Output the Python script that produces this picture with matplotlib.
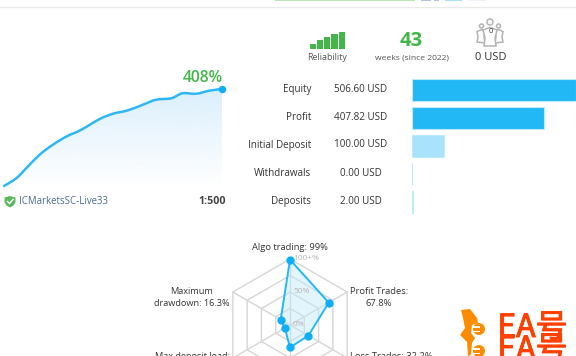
import numpy as np
import matplotlib
matplotlib.use("Agg")
import matplotlib.pyplot as plt
import matplotlib.patheffects as pe
from matplotlib.patches import Circle, Polygon, Rectangle, PathPatch
from matplotlib.path import Path

W, H = 576, 356

# ---- data ----
growth_weeks = [0, 2.4, 4.4, 7, 9.6, 12.3, 15.2, 18.8, 21.5, 24.4, 27.4, 30, 33, 35.2, 37.9, 40.5, 43]
growth_pct = [0, 32, 75, 131, 173, 208, 236, 281, 304, 318, 342, 363, 369, 390, 388, 401, 408]
bar_labels = ["Equity", "Profit", "Initial Deposit", "Withdrawals", "Deposits"]
bar_values = [506.60, 407.82, 100.00, 0.00, 2.00]
bar_texts = ["506.60 USD", "407.82 USD", "100.00 USD", "0.00 USD", "2.00 USD"]
reliability_levels = [1, 2, 3, 4, 5]
reliability_heights = [5.3, 9.3, 12, 15, 17]
radar_labels = ["Algo trading: 99%", "Profit Trades:\n67.8%", "Loss Trades: 32.2%",
                "", "Max deposit load:\n9%", "Maximum\ndrawdown: 16.3%"]
radar_values = [99, 67.8, 32.2, 34, 9, 16.3]
radar_rings = [25, 50, 75, 100]
radar_ticks = ["0%", "50%", "100+%"]

plt.rcParams['font.family'] = ['Open Sans', 'DejaVu Sans']
TXT = "#333333"
BLUE = "#22B8F5"
GREEN = "#43B649"

fig = plt.figure(figsize=(W / 100, H / 100), dpi=100, facecolor="white")


def box(x0, y0, x1, y1, **kw):
    """axes from pixel box (y measured from the top)"""
    return fig.add_axes([x0 / W, 1 - y1 / H, (x1 - x0) / W, (y1 - y0) / H], **kw)


def T(x, y, s, **kw):
    kw.setdefault("color", TXT)
    kw.setdefault("fontsize", 7.1)
    kw.setdefault("va", "center")
    return fig.text(x / W, 1 - y / H, s, **kw)


def smooth_path(xs, ys, close_to=None):
    """Cubic path through the read points (Catmull-Rom handles)."""
    p = np.column_stack([xs, ys]).astype(float)
    verts = [p[0]]
    codes = [Path.MOVETO]
    for i in range(len(p) - 1):
        a = p[max(i - 1, 0)]
        b, c = p[i], p[i + 1]
        d = p[min(i + 2, len(p) - 1)]
        verts += [b + (c - a) / 6, c - (d - b) / 6, c]
        codes += [Path.CURVE4] * 3
    if close_to is not None:
        verts += [(xs[-1], close_to), (xs[0], close_to), p[0]]
        codes += [Path.LINETO, Path.LINETO, Path.CLOSEPOLY]
    return Path(verts, codes)


# overlay in pixel coordinates for page furniture
pg = fig.add_axes([0, 0, 1, 1], zorder=0)
pg.set_xlim(0, W)
pg.set_ylim(H, 0)
pg.axis("off")
for x0, x1, c in [(275, 415, "#BCE6B8"), (421, 431, "#B5C6E4"), (434, 439, "#B5C6E4"),
                  (445, 462, "#ABDDFB"), (469, 486, "#F0F2FC")]:
    pg.add_patch(Rectangle((x0, 0), x1 - x0, 1.3, color=c, lw=0))
pg.plot([0, 576], [6.5, 6.5], color="#EAEAEA", lw=0.9)

# ---- growth line ----
ax = box(4, 89, 222, 186)
ax.set_xlim(0, 43)
ax.set_ylim(0, 408)
ax.axis("off")
grad = np.linspace(0, 1, 200)[:, None]
cols = np.zeros((200, 1, 4))
cols[..., :3] = np.array([0xDB, 0xEF, 0xFD]) / 255
cols[..., 3] = 1 - grad
im = ax.imshow(cols, extent=[0, 43, 0, 408], aspect="auto", origin="upper", zorder=1)
fill_patch = PathPatch(smooth_path(growth_weeks, growth_pct, close_to=0), fc="none", ec="none",
                       transform=ax.transData)
ax.add_patch(fill_patch)
im.set_clip_path(fill_patch)
ax.set_xlim(0, 43)
ax.set_ylim(0, 408)
ax.add_patch(PathPatch(smooth_path(growth_weeks, growth_pct), fc="none", ec="#2DB7F5", lw=1.8,
                       clip_on=False, zorder=3, capstyle="round"))
ax.plot(growth_weeks[-1:], growth_pct[-1:], "o", color="#10AEF5", ms=5.4, mew=0, clip_on=False, zorder=4)
T(203, 78.5, "408%", color=GREEN, fontsize=11.3, ha="center", fontweight="semibold")

# footer of the growth block
pg.add_patch(Polygon([(10, 196), (15.5, 197.5), (15.5, 202), (13.5, 205.5), (10, 207.5),
                      (6.5, 205.5), (4.5, 202), (4.5, 197.5)], fc="#5CB85C", ec="none"))
pg.plot([7.5, 9.5, 13], [201.5, 203.5, 199.5], color="white", lw=1.1)
T(19, 201, "ICMarketsSC-Live33", color="#4A6A96", fontsize=6.95, ha="left")
T(226, 201.5, "1:500", color="#444444", fontsize=7.7, ha="right", fontweight="bold")

# ---- balance bars ----
bx = box(412, 76, 576, 216)
bx.set_xlim(0, 506.6)
ypos = np.arange(len(bar_values))
bx.set_ylim(len(bar_values) - 0.5, -0.5)
bx.axis("off")
bar_cols = [BLUE, BLUE, "#A9E2FB", "#CDEEFD", "#CDEEFD"]
bx.barh(ypos, bar_values, height=0.78, color=bar_cols, edgecolor="#BDEBFD", lw=0.8, clip_on=True)
for lab, txt, yc in zip(bar_labels, bar_texts, [90, 118, 146, 174, 202]):
    T(311, yc - 0.5, lab, ha="right")
    T(361, yc - 1, txt, ha="center")

# ---- reliability ----
rx = box(309.3, 32, 345.3, 49.3)
rx.set_xlim(0.5, 5.5)
rx.set_ylim(0, 17.3)
rx.axis("off")
rx.bar(reliability_levels, reliability_heights, width=0.84, color=GREEN, lw=0)
T(327.5, 58, "Reliability", fontsize=6.4, ha="center", color="#555555")
T(411.5, 41, "43", color=GREEN, fontsize=14.5, ha="center", fontweight="bold")
T(411.5, 58, "weeks (since 2022)", fontsize=6.1, ha="center", color="#555555")
T(490.5, 57, "0 USD", fontsize=8, ha="center")

# people icon
for cx, cy, r in [(481.5, 26, 2), (490, 22, 3), (498.5, 26, 2)]:
    pg.add_patch(Circle((cx, cy), r, fc="white", ec="#B4B4B4", lw=1.1))
for pts in [[(477, 42), (478, 37), (477, 31.5), (482, 29.5), (485, 31), (484, 37), (485, 43)],
            [(495, 43), (496, 37), (495, 31), (498, 29.5), (503, 31.5), (502, 37), (503, 42)],
            [(484, 46), (485, 38), (483, 30), (490, 27.5), (497, 30), (495, 38), (496, 46)]]:
    pg.add_patch(Polygon(pts, fc="white", ec="#B4B4B4", lw=1.1))
T(490.5, 31.5, "0", fontsize=5.5, ha="center", color="#333333")

# ---- radar ----
R = 66
cx_, cy_ = 290, 325
rd = box(cx_ - R, cy_ - R, cx_ + R, cy_ + R, projection="polar")
rd.set_theta_zero_location("N")
rd.set_theta_direction(-1)
rd.set_ylim(0, 100)
rd.axis("off")
theta = np.deg2rad(np.arange(0, 360, 60))
tc = np.append(theta, theta[0])
for ring in radar_rings:
    rd.plot(tc, [ring] * len(tc), color="#D6D6D6", lw=1.0, clip_on=False, zorder=1)
for t in theta:
    rd.plot([t, t], [0, 100], color="#D6D6D6", lw=1.0, clip_on=False, zorder=1)
vals = np.append(radar_values, radar_values[0])
rd.fill(tc, vals, color="#BFE9FB", alpha=0.45, lw=0, zorder=2, clip_on=False)
rd.plot(tc, vals, color=BLUE, lw=1.4, zorder=3, clip_on=False)
rd.plot(theta, radar_values, "o", color="#10AEF5", ms=6, mew=0, zorder=4, clip_on=False)
for s, yy, xx in zip(radar_ticks, [325, 292, 259], [293, 293, 293]):
    T(xx, yy - 0.5, s, fontsize=6, color="#B4B4B4", ha="left", zorder=5)

T(290, 247.5, radar_labels[0], ha="center", fontsize=6.75)
T(379, 297.5, radar_labels[1], ha="center", linespacing=1.35, fontsize=6.75)
T(192, 297.5, radar_labels[5], ha="center", linespacing=1.35, fontsize=6.6)
T(350.5, 356.5, radar_labels[2], ha="left", fontsize=6.75)
T(155, 356.5, radar_labels[4].split("\n")[0], ha="left", fontsize=6.6)

# ---- watermark ----
FL = "#FF8C00"
pg.add_patch(Polygon([(461, 310), (470, 309), (477, 318), (478, 323), (472, 325), (471, 333), (475, 338),
                      (472, 343), (471, 355), (468, 356), (467, 342), (460, 335), (465, 328), (463, 318)],
                     fc=FL, ec="none"))
for by in [329, 351]:
    pg.add_patch(Circle((479, by), 6, fc=FL, ec="none"))
    pg.add_patch(Rectangle((473, by - 3), 7, 1.8, color="white", lw=0))
    pg.add_patch(Rectangle((473, by + 1.5), 7, 1.8, color="white", lw=0))
for yy in [328, 350]:
    mark = T(532.5, yy, "EA号", color="#FF4000", fontsize=23, ha="center",
             family=['Noto Sans CJK SC', 'DejaVu Sans'], zorder=6)
    mark.set_path_effects([pe.withStroke(linewidth=0.7, foreground="#FF4000")])

fig.savefig("out.png", dpi=100)
